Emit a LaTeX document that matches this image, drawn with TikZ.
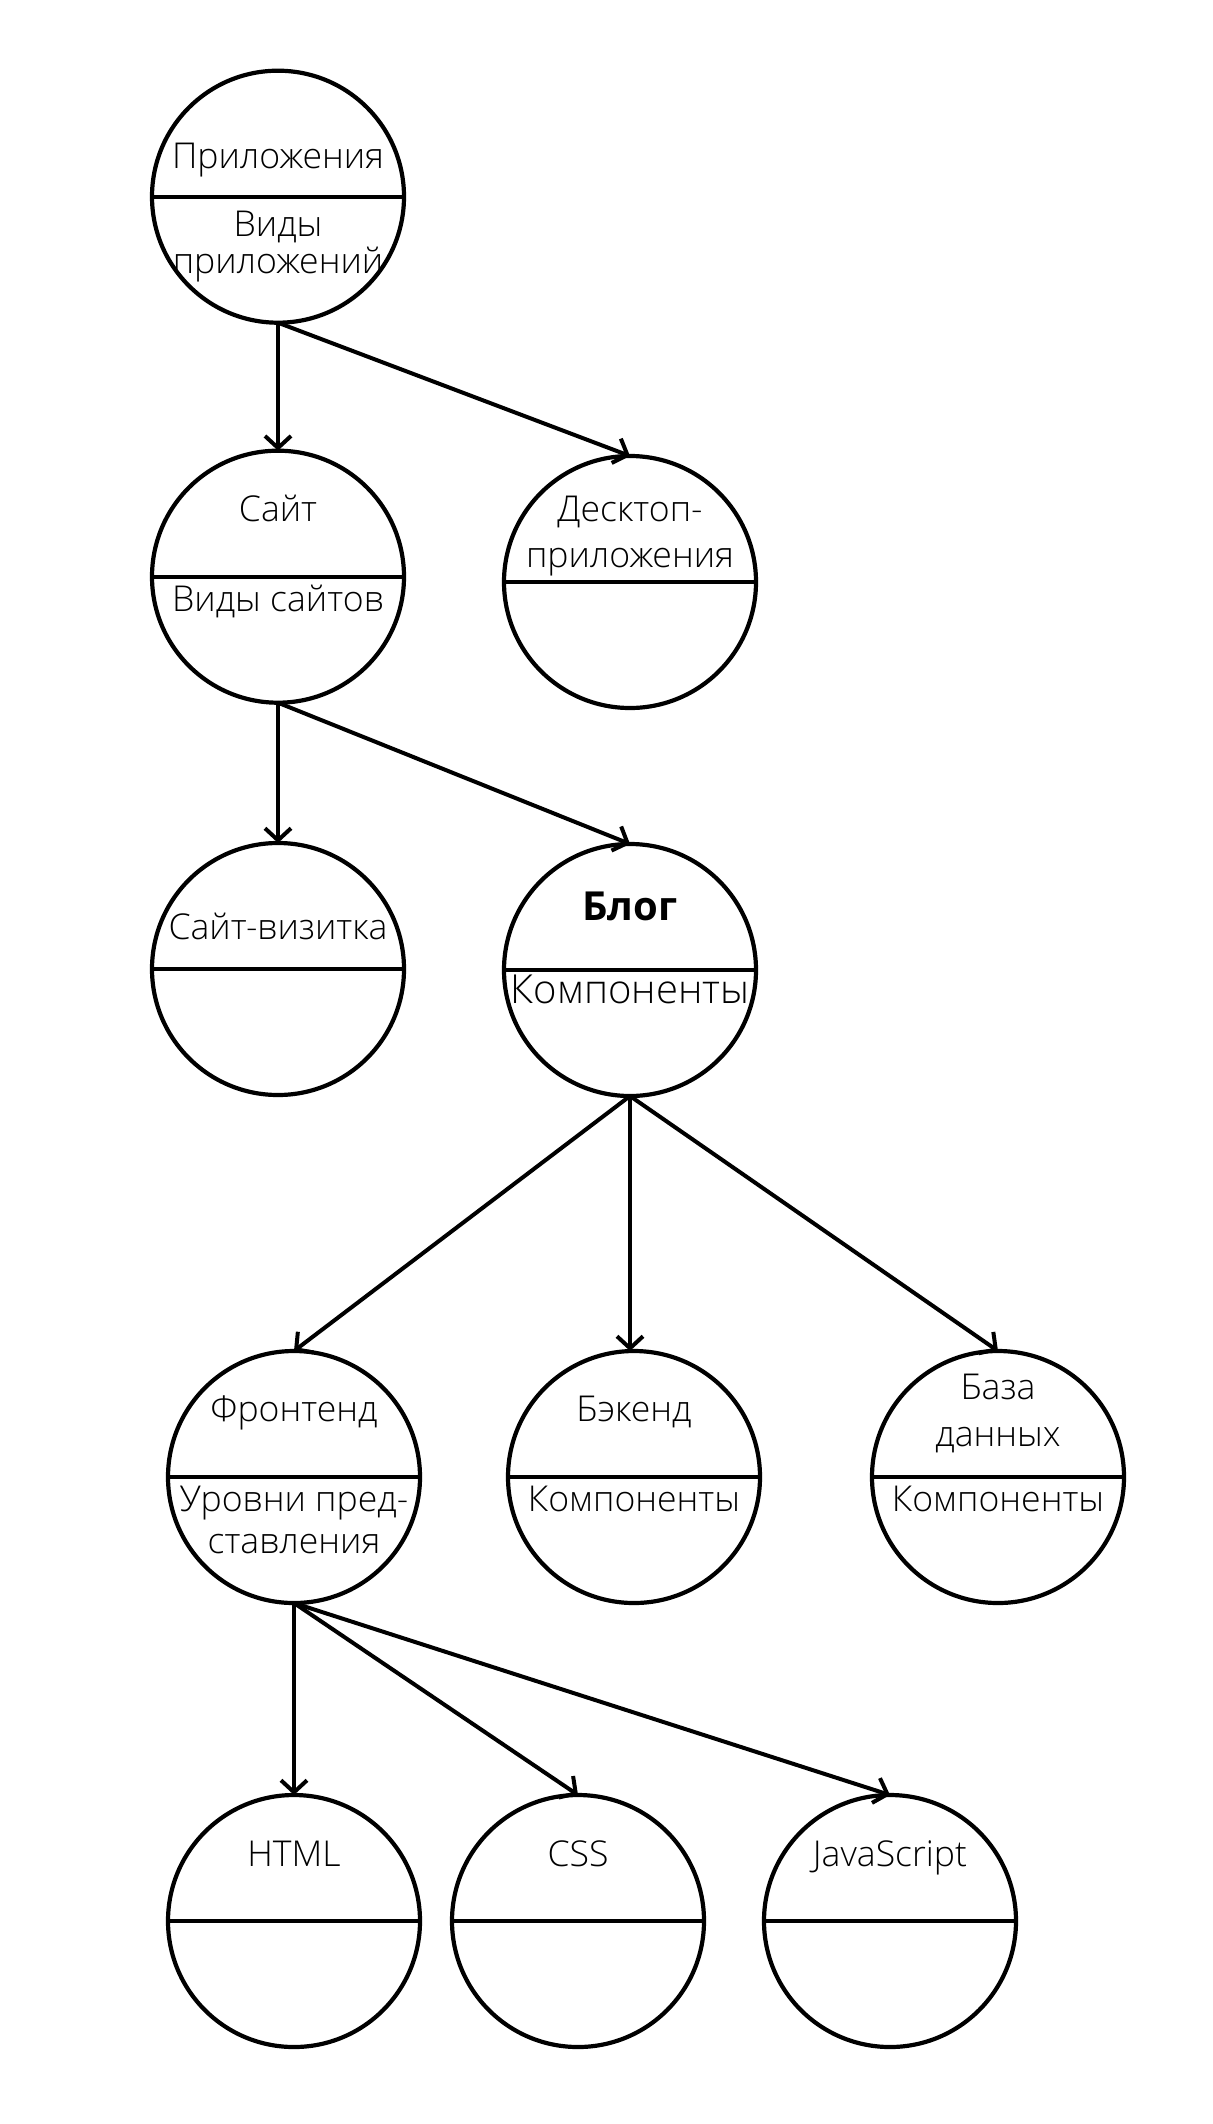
\documentclass[tikz,border=0pt]{standalone}
\usepackage{fontspec}
\setmainfont{Open Sans}[UprightFont={* Light},BoldFont={* Bold}]
\usetikzlibrary{arrows.meta}
\begin{document}
\begin{tikzpicture}[x=0.5pt,y=-0.5pt,
  circ/.style={circle,draw,line width=2.1pt,minimum size=126pt,inner sep=0pt,outer sep=0pt},
  divider/.style={line width=2.1pt},
  arr/.style={line width=2pt,-{Straight Barb[length=6pt,width=13pt]}},
  lbl/.style={anchor=base,inner sep=0pt,font=\fontsize{17.8}{21}\selectfont},
  big/.style={anchor=base,inner sep=0pt,font=\fontsize{20}{24}\selectfont}]
\useasboundingbox (0,0) rectangle (1212,2124);
% circles
\node[circ] (c1) at (278,196.7) {};
\node[circ] (c2) at (278,576.7) {};
\node[circ] (c3) at (630,582) {};
\node[circ] (c4) at (278,969) {};
\node[circ] (c5) at (630,970) {};
\node[circ] (c6) at (294,1477) {};
\node[circ] (c7) at (634,1477) {};
\node[circ] (c8) at (998,1477) {};
\node[circ] (c9) at (294,1921) {};
\node[circ] (c10) at (578,1921) {};
\node[circ] (c11) at (890,1921) {};
\foreach \n in {c1,c2,c3,c4,c5,c6,c7,c8,c9,c10,c11}
  \draw[divider] (\n.west) -- (\n.east);
% texts
\node[lbl] (t1a) at (278,168.3) {Приложения};
\node[lbl] (t1b) at (278,236) {Виды};
\node[lbl] (t1c) at (278,273.3) {приложений};
\node[lbl] (t2a) at (278,521.7) {Сайт};
\node[lbl] (t2b) at (278,611.7) {Виды сайтов};
\node[lbl] (t3a) at (630,521.7) {Десктоп-};
\node[lbl] (t3b) at (630,567.3) {приложения};
\node[lbl] (t4a) at (278,939) {Сайт-визитка};
\node[big] (t5a) at (630,920) {\bfseries Блог};
\node[big] (t5b) at (630,1003.3) {Компоненты};
\node[lbl] (t6a) at (294,1421.7) {Фронтенд};
\node[lbl] (t6b) at (294,1511.7) {Уровни пред-};
\node[lbl] (t6c) at (294,1553.3) {ставления};
\node[lbl] (t7a) at (634,1421.7) {Бэкенд};
\node[lbl] (t7b) at (634,1511.7) {Компоненты};
\node[lbl] (t8a) at (998,1399.3) {База};
\node[lbl] (t8b) at (998,1446.7) {данных};
\node[lbl] (t8c) at (998,1511.7) {Компоненты};
\node[lbl] (t9a) at (294,1866.7) {HTML};
\node[lbl] (t10a) at (578,1866.7) {CSS};
\node[lbl] (t11a) at (890,1866.7) {JavaScript};
% arrows
\draw[arr] (c1.south) -- (c2.north);
\draw[arr] (c1.south) -- (c3.north);
\draw[arr] (c2.south) -- (c4.north);
\draw[arr] (c2.south) -- (c5.north);
\draw[arr] (c5.south) -- (c6.north);
\draw[arr] (c5.south) -- (c5.south |- c7.north);
\draw[arr] (c5.south) -- (c8.north);
\draw[arr] (c6.south) -- (c9.north);
\draw[arr] (c6.south) -- (c10.north);
\draw[arr] (c6.south) -- (c11.north);
\end{tikzpicture}
\end{document}
